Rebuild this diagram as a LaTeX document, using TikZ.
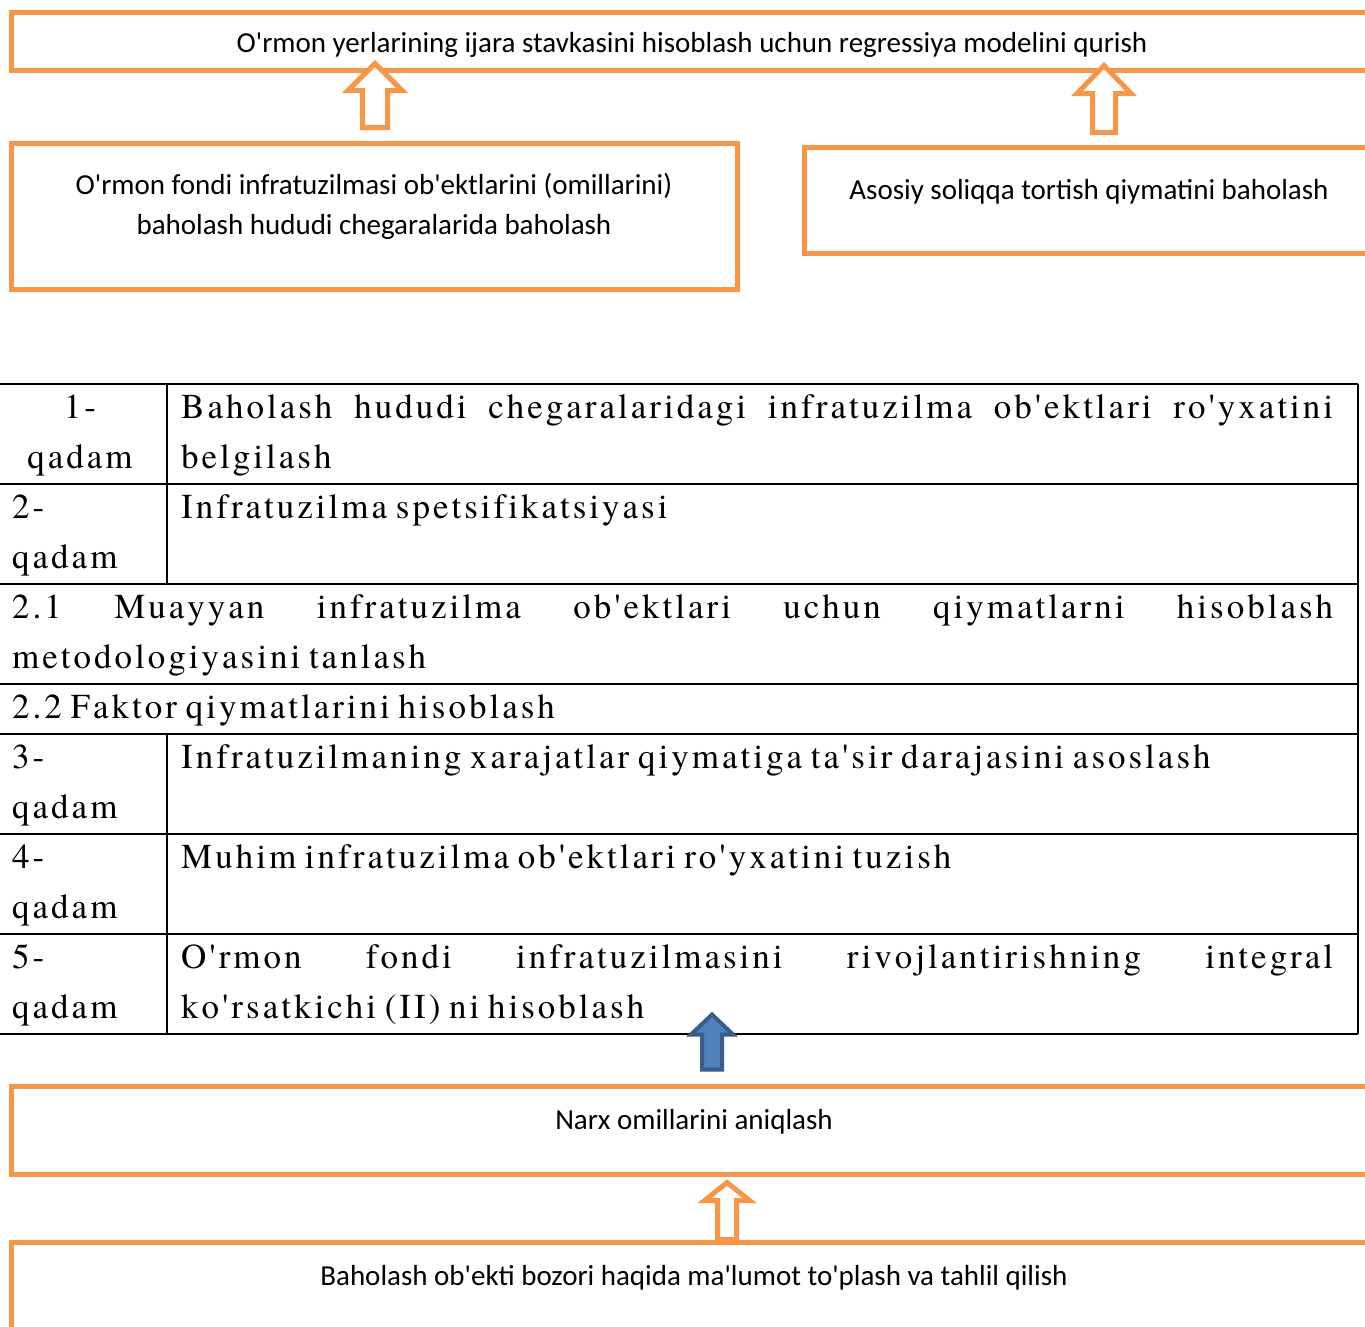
\documentclass[tikz,border=0pt]{standalone}
\usepackage{fontspec}
\usetikzlibrary{calc}
\newfontfamily\boxfont{Carlito}
\newfontfamily\stepserif{TeX Gyre Termes}
% expanded letter spacing for the table text
\XeTeXinterchartoks 0 0 = {\kern3pt}
\definecolor{accentorange}{HTML}{F79646}
\definecolor{accentblue}{HTML}{4F81BD}
\definecolor{accentblueline}{HTML}{385D8A}
\tikzset{
  obox/.style={draw=accentorange, line width=5pt, inner sep=0pt},
  otext/.style={font=\boxfont\fontsize{29}{40}\selectfont, anchor=base, inner sep=0pt},
  ttext/.style={font=\stepserif\fontsize{35}{50}\selectfont, anchor=base west, inner sep=0pt, execute at begin node=\XeTeXinterchartokenstate 1\relax},
  tline/.style={line width=2pt},
  hollow/.style={draw=accentorange, line width=5pt, fill=white},
  bluearrow/.style={draw=accentblueline, line width=4pt, fill=accentblue}
}
\begin{document}
\begin{tikzpicture}[x=1pt, y=-1pt]
	\clip (0,0) rectangle (1365,1326);
	% orange boxes
	\node[obox, minimum width=1362, minimum height=58] (model) at (692,41) {};
	\node[otext] (modeltxt) at (692,52) {O'rmon yerlarining ijara stavkasini hisoblash uchun regressiya modelini qurish};
	\node[obox, minimum width=726, minimum height=146] (infra) at (374,216) {};
	\node[otext] (infratxta) at (374,194) {O'rmon fondi infratuzilmasi ob'ektlarini (omillarini)};
	\node[otext] (infratxtb) at (374,234) {baholash hududi chegaralarida baholash};
	\node[obox, minimum width=570, minimum height=106] (soliq) at (1089,200) {};
	\node[otext] (soliqtxt) at (1089,199) {Asosiy soliqqa tortish qiymatini baholash};
	\node[obox, minimum width=1366, minimum height=88] (narx) at (694,1130) {};
	\node[otext] (narxtxt) at (694,1129) {Narx omillarini aniqlash};
	\node[obox, minimum width=1366, minimum height=178] (bozor) at (694,1331) {};
	\node[otext] (bozortxt) at (694,1285) {Baholash ob'ekti bozori haqida ma'lumot to'plash va tahlil qilish};
	% block arrows
	\coordinate (a1) at ($(infra.north)+(1,-13)$);
	\coordinate (a2) at ($(soliq.north)+(15,-12)$);
	\coordinate (a3) at ($(narx.north)+(18,-14)$);
	\coordinate (a4) at ($(bozor.north)+(33,0)$);
	\draw[hollow] (a1) ++(-12.5,0) -- ++(25,0) -- ++(0,-37) -- ++(14.5,0) -- ++(-27,-27) -- ++(-27,27) -- ++(14.5,0) -- cycle;
	\draw[hollow] (a2) ++(-11.5,0) -- ++(23,0) -- ++(0,-39) -- ++(15.5,0) -- ++(-27,-28) -- ++(-27,28) -- ++(15.5,0) -- cycle;
	\draw[hollow] (a4) ++(-9.5,0) -- ++(19,0) -- ++(0,-39) -- ++(13,0) -- ++(-22.5,-18) -- ++(-22.5,18) -- ++(13,0) -- cycle;
	% table
	\foreach \y in {384,484,584,684,734,834,934,1034}
		\draw[tline] (0,\y) -- (1358,\y);
	\draw[tline] (1358,384) -- (1358,1034);
	\draw[tline] (167,384) -- (167,584);
	\draw[tline] (167,734) -- (167,1034);
	\node[ttext, anchor=base] (s1a) at (80,418) {1-};
	\node[ttext, anchor=base] (s1b) at (80,468) {qadam};
	\foreach \n/\t in {2/484,3/734,4/834,5/934}{
		\node[ttext] (s\n a) at (12,{\t+34}) {\n-};
		\node[ttext] (s\n b) at (12,{\t+84}) {qadam};
	}
	\node[ttext] (r1a) at (181,418) {\makebox[1152pt][s]{Baholash hududi chegaralaridagi infratuzilma ob'ektlari ro'yxatini}};
	\node[ttext] (r1b) at (181,468) {belgilash};
	\node[ttext] (r2) at (181,518) {Infratuzilma spetsifikatsiyasi};
	\node[ttext] (r21a) at (12,618) {\makebox[1321pt][s]{2.1 Muayyan infratuzilma ob'ektlari uchun qiymatlarni hisoblash}};
	\node[ttext] (r21b) at (12,668) {metodologiyasini tanlash};
	\node[ttext] (r22) at (12,718) {2.2 Faktor qiymatlarini hisoblash};
	\node[ttext] (r3) at (181,768) {Infratuzilmaning xarajatlar qiymatiga ta'sir darajasini asoslash};
	\node[ttext] (r4) at (181,868) {Muhim infratuzilma ob'ektlari ro'yxatini tuzish};
	\node[ttext] (r5a) at (181,968) {\makebox[1152pt][s]{O'rmon fondi infratuzilmasini rivojlantirishning integral}};
	\node[ttext] (r5b) at (181,1018) {ko'rsatkichi (II) ni hisoblash};
	% blue arrow over the table
	\draw[bluearrow] (a3) ++(-10,0) -- ++(20,0) -- ++(0,-35) -- ++(11,0) -- ++(-21,-20) -- ++(-21,20) -- ++(11,0) -- cycle;
\end{tikzpicture}
\end{document}
